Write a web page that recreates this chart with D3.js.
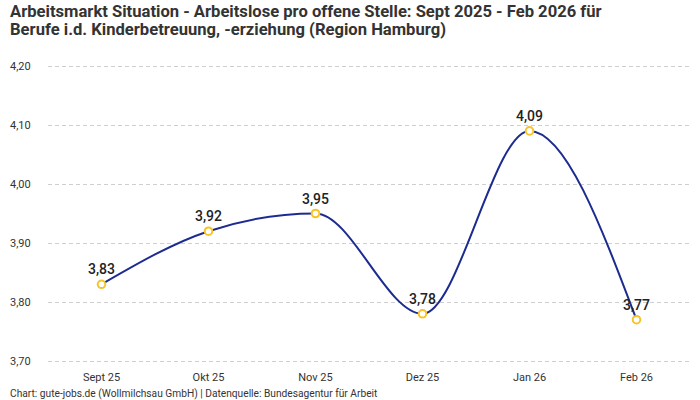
<!DOCTYPE html>
<html>
<head>
<meta charset="utf-8">
<script src="https://cdn.jsdelivr.net/npm/d3@7"></script>
<style>
  body { margin: 0; background: #fff; font-family: "Roboto", "Noto Sans", sans-serif; }
  #chart { width: 700px; height: 400px; }
  .grid line { stroke: #cfcfcf; stroke-dasharray: 4,3; }
  .grid path { display: none; }
</style>
</head>
<body>
<div id="chart"></div>
<script>
const months = ["Sept 25", "Okt 25", "Nov 25", "Dez 25", "Jan 26", "Feb 26"];
const values = [3.83, 3.92, 3.95, 3.78, 4.09, 3.77];
const yTicks = [3.7, 3.8, 3.9, 4.0, 4.1, 4.2];

const fmt = v => v.toFixed(2).replace(".", ",");

const width = 700, height = 400;
const svg = d3.select("#chart").append("svg")
  .attr("width", width)
  .attr("height", height);

// Titel
svg.append("text")
  .attr("x", 10).attr("y", 17)
  .attr("font-size", "16.6px").attr("font-weight", "700").attr("fill", "#333")
  .text("Arbeitsmarkt Situation - Arbeitslose pro offene Stelle: Sept 2025 - Feb 2026 für");
svg.append("text")
  .attr("x", 10).attr("y", 35)
  .attr("font-size", "16.6px").attr("font-weight", "700").attr("fill", "#333")
  .text("Berufe i.d. Kinderbetreuung, -erziehung (Region Hamburg)");

const x = d3.scalePoint()
  .domain(months)
  .range([48, 690])
  .padding(0.5);

const y = d3.scaleLinear()
  .domain([3.7, 4.2])
  .range([361, 66]);

// Gitterlinien
svg.append("g")
  .attr("class", "grid")
  .attr("transform", "translate(48,0)")
  .call(d3.axisLeft(y).tickValues(yTicks).tickSize(-642).tickFormat(""));

// Y-Achsenbeschriftung
svg.append("g")
  .selectAll("text")
  .data(yTicks)
  .enter()
  .append("text")
  .attr("x", 10)
  .attr("y", d => y(d) + 4)
  .attr("font-size", "11px")
  .attr("fill", "#333")
  .text(fmt);

// X-Achsenbeschriftung
svg.append("g")
  .selectAll("text")
  .data(months)
  .enter()
  .append("text")
  .attr("x", d => x(d))
  .attr("y", 381)
  .attr("text-anchor", "middle")
  .attr("font-size", "11px")
  .attr("fill", "#333")
  .text(d => d);

const data = months.map((m, i) => ({ m, v: values[i] }));

const line = d3.line()
  .x(d => x(d.m))
  .y(d => y(d.v))
  .curve(d3.curveMonotoneX);

svg.append("path")
  .datum(data)
  .attr("d", line)
  .attr("fill", "none")
  .attr("stroke", "#1c2b8f")
  .attr("stroke-width", 2);

svg.selectAll(".pt")
  .data(data)
  .enter()
  .append("circle")
  .attr("class", "pt")
  .attr("cx", d => x(d.m))
  .attr("cy", d => y(d.v))
  .attr("r", 3.8)
  .attr("fill", "#fff")
  .attr("stroke", "#f7c325")
  .attr("stroke-width", 2);

svg.selectAll(".lbl")
  .data(data)
  .enter()
  .append("text")
  .attr("class", "lbl")
  .attr("x", d => x(d.m))
  .attr("y", d => y(d.v) - 10)
  .attr("text-anchor", "middle")
  .attr("font-size", "14px")
  .attr("font-weight", "500")
  .attr("fill", "#222")
  .text(d => fmt(d.v));

// Quelle
svg.append("text")
  .attr("x", 10).attr("y", 397)
  .attr("font-size", "10.2px").attr("fill", "#333")
  .text("Chart: gute-jobs.de (Wollmilchsau GmbH) | Datenquelle: Bundesagentur für Arbeit");
</script>
</body>
</html>
